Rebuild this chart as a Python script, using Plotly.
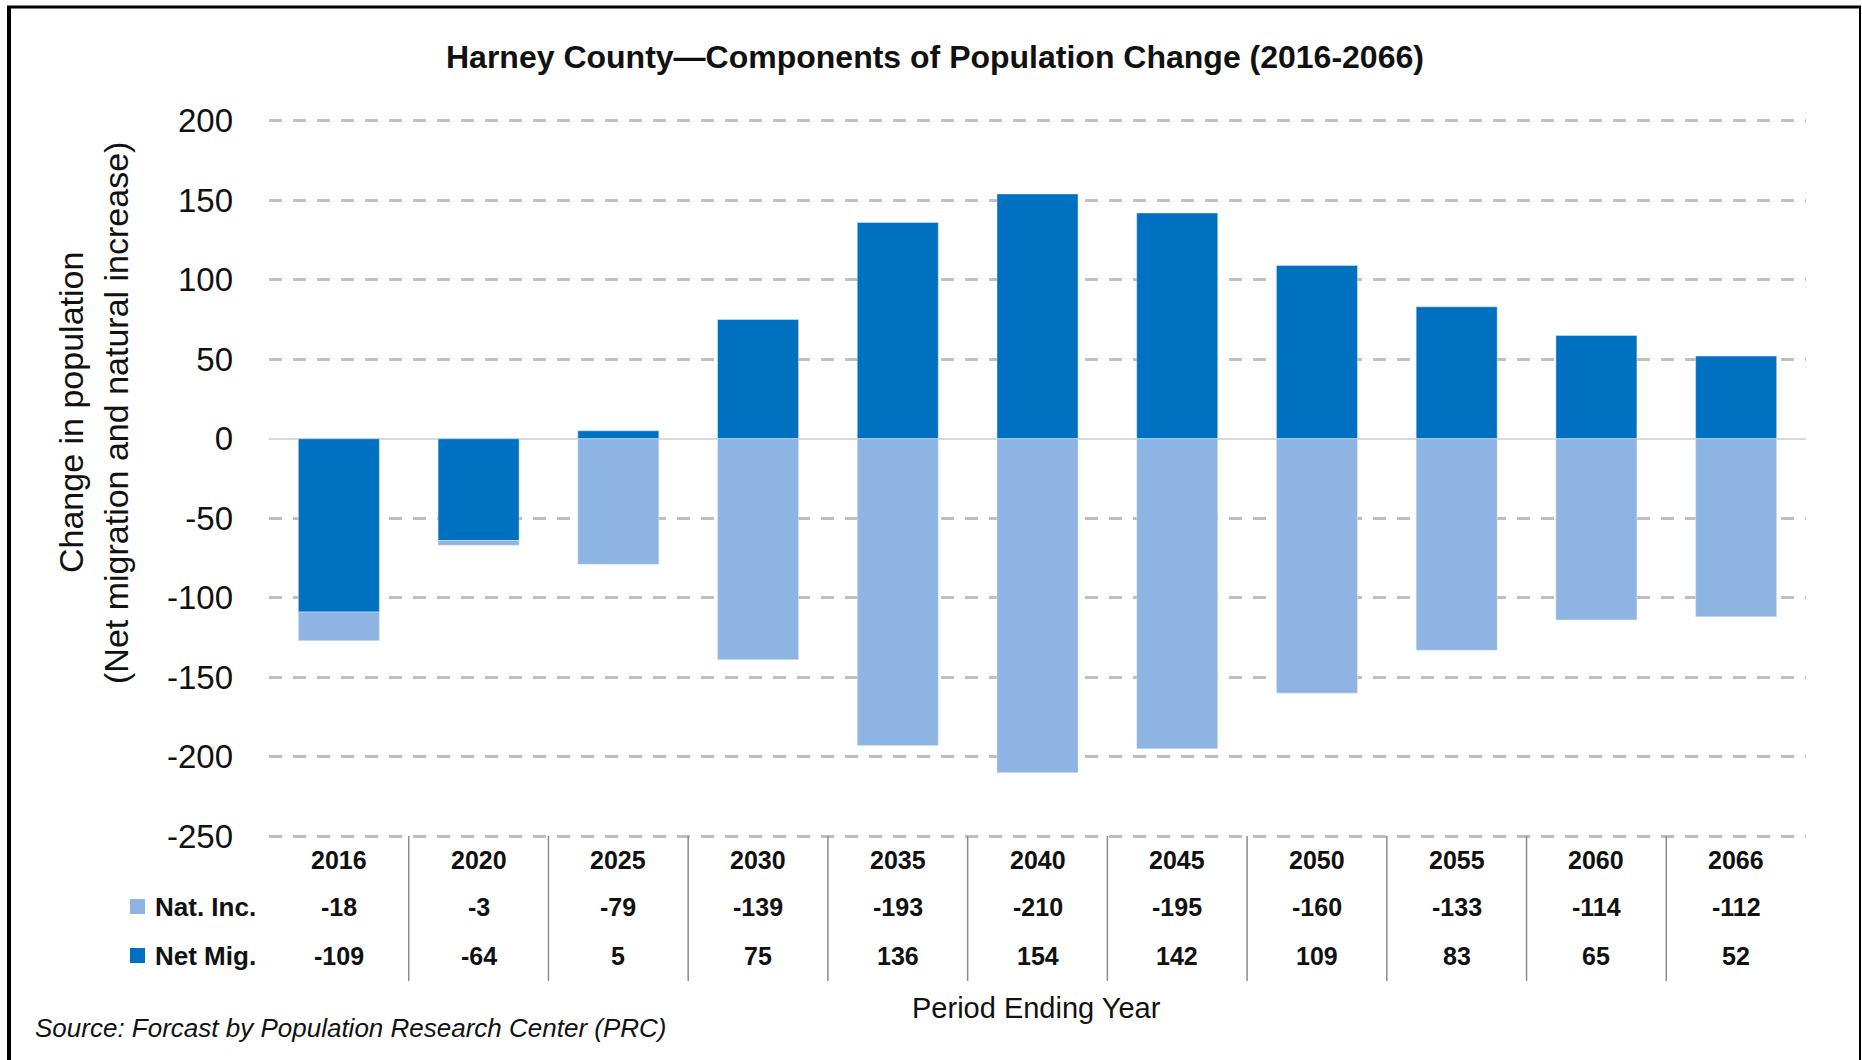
import plotly.graph_objects as go

years = ["2016", "2020", "2025", "2030", "2035", "2040", "2045", "2050", "2055", "2060", "2066"]
nat_inc = [-18, -3, -79, -139, -193, -210, -195, -160, -133, -114, -112]
net_mig = [-109, -64, 5, 75, 136, 154, 142, 109, 83, 65, 52]
series_names = ["Nat. Inc.", "Net Mig."]
y_ticks = [200, 150, 100, 50, 0, -50, -100, -150, -200, -250]

DARK = "#0070C0"
LIGHT = "#8DB4E2"
FONT = "Liberation Sans"
TXT = "#111111"

W, H = 1862, 1060
# plot area chosen so that y=200 sits at 121px and y=-250 at 836px
Y_MIN, Y_MAX = -253, 203
L, R, T, B = 269, 1806, 116, 841


def px(x):
    return (x - L) / (R - L)


def py(y):
    return (B - y) / (B - T)


fig = go.Figure()
fig.add_trace(go.Bar(x=years, y=net_mig, name=series_names[1], marker_color=DARK))
fig.add_trace(go.Bar(x=years, y=nat_inc, name=series_names[0], marker_color=LIGHT))

annotations = []
shapes = []

# Title
annotations.append(dict(text="<b>Harney County\u2014Components of Population Change (2016-2066)</b>",
                        x=px(935), y=py(57), xref="paper", yref="paper", showarrow=False,
                        xanchor="center", yanchor="middle",
                        font=dict(family=FONT, size=32, color=TXT)))

# Y axis titles (two lines)
annotations.append(dict(text="Change in population", x=px(71), y=py(413), xref="paper", yref="paper",
                        showarrow=False, textangle=-90, xanchor="center", yanchor="middle",
                        font=dict(family=FONT, size=34, color=TXT)))
annotations.append(dict(text="(Net migration and natural increase)", x=px(116), y=py(413), xref="paper",
                        yref="paper", showarrow=False, textangle=-90, xanchor="center", yanchor="middle",
                        font=dict(family=FONT, size=34, color=TXT)))

# Data table (category axis: annotations positioned by category index)
row_year, row_nat, row_net = py(860), py(907), py(956)
for i, yr in enumerate(years):
    for val, row in [(yr, row_year), (nat_inc[i], row_nat), (net_mig[i], row_net)]:
        annotations.append(dict(text=f"<b>{val}</b>", x=i, y=row, xref="x", yref="paper", showarrow=False,
                                xanchor="center", yanchor="middle",
                                font=dict(family=FONT, size=25, color=TXT)))

for i in range(len(years) - 1):
    shapes.append(dict(type="line", xref="x", yref="paper", x0=i + 0.5, x1=i + 0.5, y0=py(836), y1=py(981),
                       line=dict(color="#8C8C8C", width=1.5)))

# Legend keys in table
for label, color, yc in [(series_names[0], LIGHT, 907), (series_names[1], DARK, 956)]:
    shapes.append(dict(type="rect", xref="paper", yref="paper", x0=px(130), x1=px(145),
                       y0=py(yc - 8), y1=py(yc + 7), fillcolor=color, line=dict(width=0)))
    annotations.append(dict(text=f"<b>{label}</b>", x=px(153), y=py(yc), xref="paper", yref="paper",
                            showarrow=False, xanchor="left", yanchor="middle",
                            font=dict(family=FONT, size=26, color=TXT)))

# X axis title
annotations.append(dict(text="Period Ending Year", x=px(1036), y=py(1008), xref="paper", yref="paper",
                        showarrow=False, xanchor="center", yanchor="middle",
                        font=dict(family=FONT, size=29, color=TXT)))

# Source
annotations.append(dict(text="<i>Source: Forcast by Population Research Center (PRC)</i>", x=px(33), y=py(1028),
                        xref="paper", yref="paper", showarrow=False, xanchor="left", yanchor="middle",
                        font=dict(family=FONT, size=26, color=TXT)))

# Outer border (left, top, right)
shapes.append(dict(type="line", xref="paper", yref="paper", x0=px(9), x1=px(9), y0=py(6), y1=py(1062),
                   line=dict(color="black", width=4)))
shapes.append(dict(type="line", xref="paper", yref="paper", x0=px(7), x1=px(1861), y0=py(7), y1=py(7),
                   line=dict(color="black", width=3)))
shapes.append(dict(type="line", xref="paper", yref="paper", x0=px(1860), x1=px(1860), y0=py(6), y1=py(1062),
                   line=dict(color="black", width=2)))

fig.update_layout(
    width=W, height=H,
    margin=dict(l=L, r=W - R, t=T, b=H - B),
    barmode="relative",
    bargap=0.42,
    plot_bgcolor="white",
    paper_bgcolor="white",
    showlegend=False,
    annotations=annotations,
    shapes=shapes,
)
fig.update_xaxes(type="category", showticklabels=False, ticks="", showline=False, showgrid=False,
                 zeroline=False, categoryorder="array", categoryarray=years,
                 range=[-0.5, len(years) - 0.5], autorange=False)
fig.update_yaxes(range=[Y_MIN, Y_MAX], tickvals=y_ticks, ticktext=[str(v) for v in y_ticks],
                 showgrid=True, gridcolor="#BFBFBF", gridwidth=2.5, griddash="13px,11px",
                 zeroline=True, zerolinecolor="#D9D9D9", zerolinewidth=2,
                 showline=False, ticks="", ticklabelstandoff=35,
                 tickfont=dict(family=FONT, size=33, color=TXT))

fig.write_html("out.html", config={"displayModeBar": False},
               post_script="document.body.style.margin='0';document.body.style.overflow='hidden';")
